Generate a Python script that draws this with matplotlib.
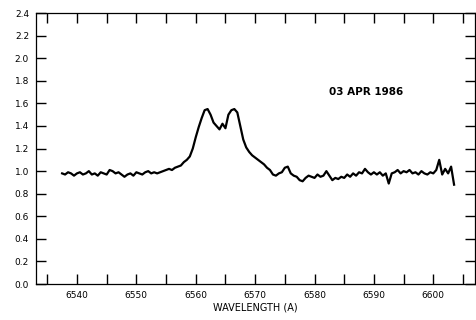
import matplotlib.pyplot as plt
import numpy as np

# spectrum sampled every 0.5 A starting at 6537.5 A
wl_start = 6537.5
wl_step = 0.5
flux = [
    0.98, 0.97, 0.99, 0.98, 0.96, 0.98, 0.99, 0.97, 0.98, 1.00,
    0.97, 0.98, 0.96, 0.99, 0.98, 0.97, 1.01, 1.00, 0.98, 0.99,
    0.97, 0.95, 0.97, 0.98, 0.96, 0.99, 0.98, 0.97, 0.99, 1.00,
    0.98, 0.99, 0.98,
    # 6554.0 ->
    0.99, 1.00, 1.01, 1.02, 1.01, 1.03, 1.04, 1.05, 1.08, 1.10,
    1.13, 1.20, 1.30, 1.39, 1.47, 1.54, 1.55, 1.50, 1.43, 1.40,
    1.37, 1.42, 1.38, 1.50, 1.54, 1.55, 1.52, 1.40, 1.28, 1.21,
    1.17, 1.14, 1.12, 1.10, 1.08, 1.06, 1.03, 1.01, 0.97, 0.96,
    0.98, 0.99, 1.03, 1.04, 0.98, 0.96, 0.95, 0.92, 0.91, 0.94,
    0.96, 0.95, 0.94, 0.97, 0.95, 0.96, 1.00, 0.96, 0.92, 0.94,
    0.93, 0.95, 0.94, 0.97, 0.95, 0.98, 0.96, 0.99,
    # 6588.0 ->
    0.98, 1.02, 0.99, 0.97, 0.99, 0.97, 0.99, 0.96, 0.98, 0.89,
    0.98, 0.99, 1.01, 0.98, 1.00, 0.99, 1.01, 0.98, 0.99, 0.97,
    1.00, 0.98, 0.97, 0.99, 0.98, 1.01, 1.10, 0.97, 1.02, 0.98,
    1.04, 0.88,
]
date_label = "03 APR 1986"

wavelength = wl_start + wl_step * np.arange(len(flux))

fig = plt.figure(figsize=(4.76, 3.2), dpi=100)
ax = fig.add_axes([0.0756, 0.1125, 0.922, 0.8465])

ax.plot(wavelength, flux, color='black', lw=1.6)

ax.set_xlim(6533.1, 6607.0)
ax.set_ylim(0.0, 2.4)
ax.set_xticks(np.arange(6540, 6601, 10))
ax.set_xticks(np.arange(6535, 6606, 5), minor=True)
ax.set_yticks(np.arange(0, 2.41, 0.2))
ax.set_yticklabels([f"{v:.1f}" for v in np.arange(0, 2.41, 0.2)])

ax.tick_params(which='both', direction='in', top=True, right=True,
               length=7, width=1.0, labelsize=6.5, pad=5)

for s in ax.spines.values():
    s.set_linewidth(0.9)

ax.set_xlabel("WAVELENGTH (A)", fontsize=7, labelpad=2)
ax.text(6588.7, 1.70, date_label, fontsize=7.5, fontweight='bold',
        ha='center', va='center')

fig.savefig("out.png", dpi=100)
